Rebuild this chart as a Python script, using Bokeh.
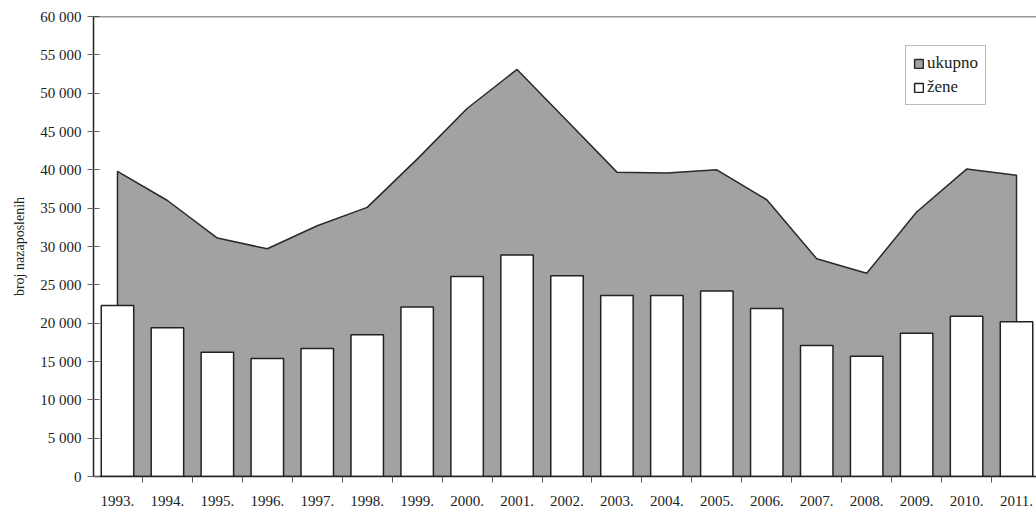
from bokeh.plotting import figure
from bokeh.models import Range1d, FixedTicker, Legend, LegendItem, Span
from bokeh.embed import file_html
from bokeh.resources import INLINE

# ---- data ----
years = list(range(1993, 2012))
year_labels = [f"{y}." for y in years]
ukupno = [39800, 36000, 31100, 29700, 32700, 35100, 41400, 48000, 53100, 46400,
          39700, 39600, 40000, 36100, 28400, 26500, 34500, 40100, 39300]
zene = [22300, 19400, 16200, 15400, 16700, 18500, 22100, 26100, 28900, 26200,
        23600, 23600, 24200, 21900, 17100, 15700, 18700, 20900, 20200]
y_ticks = [0, 5000, 10000, 15000, 20000, 25000, 30000, 35000, 40000, 45000, 50000, 55000, 60000]
y_tick_labels = ["0", "5 000", "10 000", "15 000", "20 000", "25 000", "30 000",
                 "35 000", "40 000", "45 000", "50 000", "55 000", "60 000"]
series_names = ["ukupno", "žene"]
y_title = "broj nazaposlenih"

FONT = "Liberation Serif"

p = figure(width=1036, height=508,
           x_range=Range1d(1992.52, 2011.40), y_range=Range1d(0, 60000),
           output_backend="svg", toolbar_location=None,
           min_border_left=93, min_border_right=0, min_border_top=16, min_border_bottom=31)

p.background_fill_color = "white"
p.border_fill_color = "white"
p.outline_line_color = None
p.xgrid.visible = False
p.ygrid.visible = False

# area (ukupno)
px = [years[0]] + years + [years[-1]]
py = [0] + ukupno + [0]
area = p.patch(px, py, fill_color="#a2a2a2", line_color="#2a2a2a", line_width=1.5)

# bars (zene)
bars = p.vbar(x=years, top=zene, bottom=0, width=0.65,
              fill_color="white", line_color="#222222", line_width=1.5)

# top border of the plot area
p.add_layout(Span(location=y_ticks[-1], dimension="width", line_color="#333333", line_width=1.5))

# x axis
xa = p.xaxis[0]
xa.ticker = FixedTicker(ticks=years, minor_ticks=[y + 0.5 for y in years[:-1]])
xa.major_label_overrides = {y: lab for y, lab in zip(years, year_labels)}
xa.major_tick_in = 0
xa.major_tick_out = 0
xa.minor_tick_in = 0
xa.minor_tick_out = 6
xa.minor_tick_line_color = "#555555"
xa.axis_line_color = "#222222"
xa.axis_line_width = 1.5
xa.major_label_text_font = FONT
xa.major_label_text_font_size = "15px"
xa.major_label_text_color = "#222222"
xa.major_label_standoff = 13

# y axis
ya = p.yaxis[0]
ya.ticker = FixedTicker(ticks=y_ticks)
ya.major_label_overrides = {t: lab for t, lab in zip(y_ticks, y_tick_labels)}
ya.major_tick_in = 6
ya.major_tick_out = 6
ya.major_tick_line_color = "#666666"
ya.minor_tick_line_color = None
ya.axis_line_color = "#222222"
ya.axis_line_width = 1.5
ya.major_label_text_font = FONT
ya.major_label_text_font_size = "15px"
ya.major_label_text_color = "#222222"
ya.major_label_standoff = 6
ya.axis_label = y_title
ya.axis_label_text_font = FONT
ya.axis_label_text_font_size = "14px"
ya.axis_label_text_font_style = "normal"
ya.axis_label_text_color = "#222222"
ya.axis_label_standoff = 10

legend = Legend(items=[LegendItem(label=series_names[0], renderers=[area]),
                       LegendItem(label=series_names[1], renderers=[bars])],
                location=(812, 371))
legend.label_text_font = FONT
legend.label_text_font_size = "17px"
legend.label_text_color = "#222222"
legend.glyph_width = 11
legend.glyph_height = 11
legend.label_height = 20
legend.label_standoff = 3
legend.spacing = 4
legend.padding = 7
legend.margin = 0
legend.border_line_color = "#777777"
legend.border_line_width = 1
legend.background_fill_color = "white"
legend.background_fill_alpha = 1
p.add_layout(legend)

open("out.html", "w").write(file_html(p, INLINE))
